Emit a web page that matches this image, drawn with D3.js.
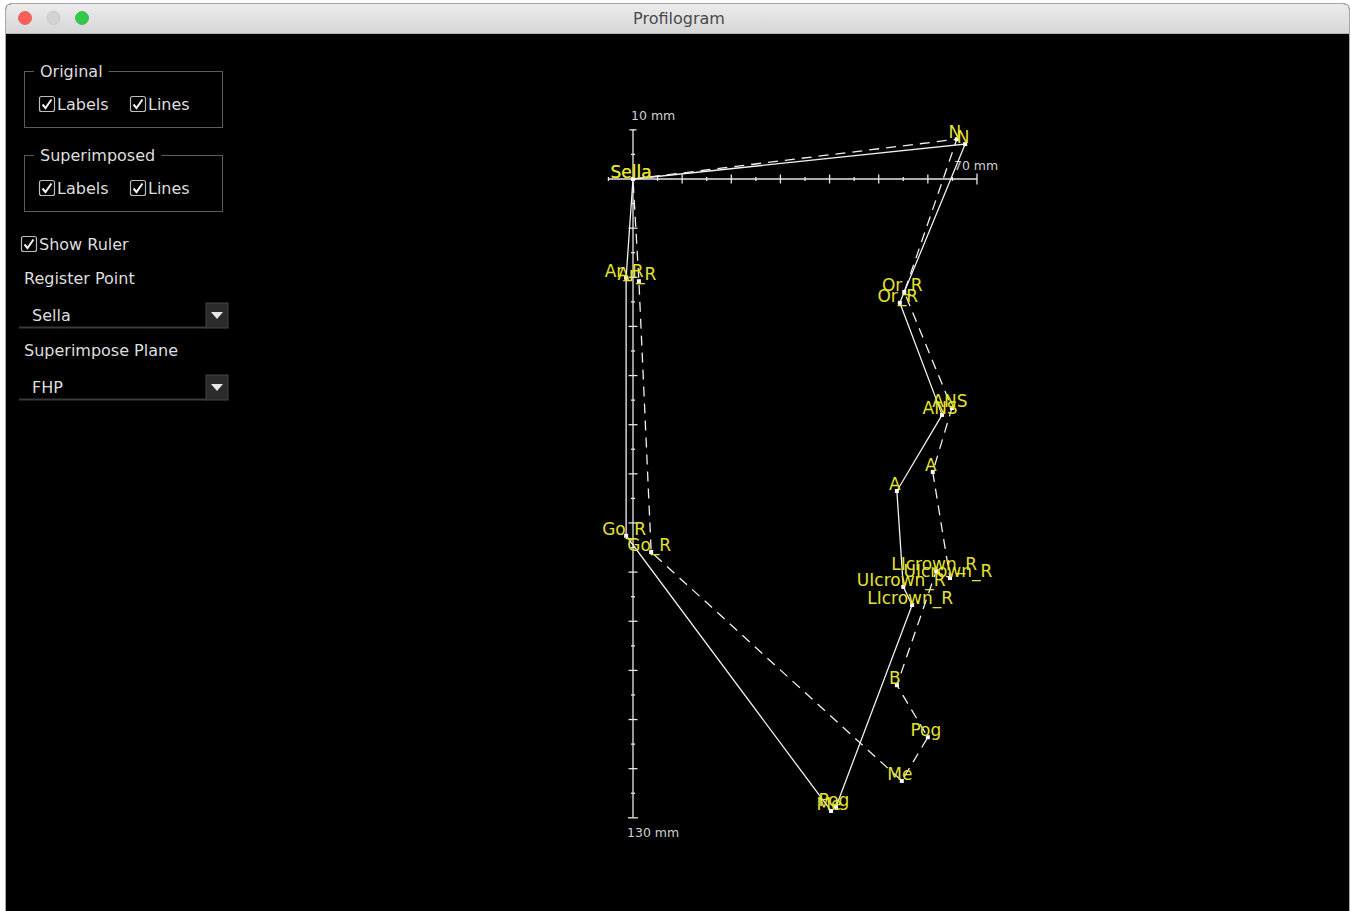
<!DOCTYPE html>
<html>
<head>
<meta charset="utf-8">
<title>Profilogram</title>
<script src="https://cdn.jsdelivr.net/npm/d3@7"></script>
<style>
  html, body { margin: 0; padding: 0; background: #fff; }
  svg { display: block; font-family: "DejaVu Sans", sans-serif; }
</style>
</head>
<body>
<div class="canvas"></div>
<script>
// landmark data in mm, relative to the register point (Sella)
const originalNames = ["Sella", "N", "Or_R", "ANS", "A", "UIcrown_R", "LIcrown_R", "Pog", "Me", "Go_R", "Ar_R"];
const originalX = [0, 67.6, 54.3, 62.9, 53.7, 55.0, 56.8, 41.3, 40.3, -1.4, -1.4];
const originalY = [0, -7.1, 25.2, 48.0, 63.5, 83.0, 86.7, 127.8, 128.6, 72.6, 20.1];

const superNames = ["Sella", "N", "Or_R", "ANS", "A", "UIcrown_R", "LIcrown_R", "B", "Pog", "Me", "Go_R", "Ar_R"];
const superX = [0, 65.9, 55.2, 64.9, 61.0, 64.5, 61.7, 53.7, 60.0, 54.7, 3.7, 1.2];
const superY = [0, -8.1, 23.0, 46.6, 59.6, 81.2, 79.8, 103.0, 113.6, 122.5, 75.9, 20.8];

// ruler extents and tick labels
const rulerX = [-5, 70];
const rulerY = [-10, 130];
const rulerLabels = ["10 mm", "70 mm", "130 mm"];

// panel texts
const groupTitles = ["Original", "Superimposed"];
const checkTexts = ["Labels", "Lines"];
const comboTitles = ["Register Point", "Superimpose Plane"];
const comboValues = ["Sella", "FHP"];

const w = 1351;
const h = 911;
const pxPerMm = 4.914;
const origin = { x: 633, y: 179 };

const svg = d3.select(".canvas").append("svg").attr("width", w).attr("height", h);

// window frame
const defs = svg.append("defs");
const grad = defs.append("linearGradient").attr("id", "titlebar").attr("x1", 0).attr("y1", 0).attr("x2", 0).attr("y2", 1);
grad.append("stop").attr("offset", "0%").attr("stop-color", "#ececec");
grad.append("stop").attr("offset", "100%").attr("stop-color", "#d6d6d6");

svg.append("rect").attr("x", 5.5).attr("y", 3.5).attr("width", 1344).attr("height", 930)
  .attr("rx", 6).attr("fill", "#000").attr("stroke", "#a8a8a8");
svg.append("path")
  .attr("d", "M6,33 L6,10 Q6,4 12,4 L1343,4 Q1349,4 1349,10 L1349,33 Z")
  .attr("fill", "url(#titlebar)");
svg.append("line").attr("x1", 6).attr("x2", 1349).attr("y1", 33.5).attr("y2", 33.5).attr("stroke", "#b4b4b4");
[["#fc5f57", "#de4a42"], ["#d3d3d3", "#c0c0c0"], ["#34c84a", "#27aa35"]].forEach((c, i) => {
  svg.append("circle").attr("cx", 25 + i * 28.5).attr("cy", 18).attr("r", 6.5)
    .attr("fill", c[0]).attr("stroke", c[1]).attr("stroke-width", 0.7);
});
svg.append("text").attr("x", 679).attr("y", 24).attr("text-anchor", "middle")
  .attr("font-size", 16).attr("fill", "#4a4a4a").text("Profilogram");

// left control panel
const panel = svg.append("g").attr("fill", "#dedede").attr("font-size", 16);

function checkbox(x, y, label) {
  panel.append("rect").attr("x", x + 0.5).attr("y", y + 0.5).attr("width", 15).attr("height", 15)
    .attr("rx", 2).attr("fill", "#000").attr("stroke", "#bdbdbd").attr("stroke-width", 1.2);
  panel.append("path").attr("d", `M${x + 3.5},${y + 8.5} L${x + 6.5},${y + 12} L${x + 12.5},${y + 3.5}`)
    .attr("fill", "none").attr("stroke", "#f2f2f2").attr("stroke-width", 2);
  panel.append("text").attr("x", x + 18).attr("y", y + 13.5).text(label);
}

groupTitles.forEach((t, i) => {
  const top = 71 + i * 84;
  panel.append("rect").attr("x", 24.5).attr("y", top + 0.5).attr("width", 198).attr("height", 56)
    .attr("fill", "none").attr("stroke", "#5c5c5c");
  // gap in the border behind the group title
  const title = panel.append("text").attr("x", 40).attr("y", top + 5.5).text(t);
  const tw = title.node().getComputedTextLength();
  panel.insert("rect", "text:last-child").attr("x", 34).attr("y", top - 6)
    .attr("width", tw + 12).attr("height", 12).attr("fill", "#000");
  title.raise();
  checkbox(39, top + 25, checkTexts[0]);
  checkbox(130, top + 25, checkTexts[1]);
});

checkbox(21, 236, "Show Ruler");

comboTitles.forEach((t, i) => {
  const top = 278 + i * 72;
  panel.append("text").attr("x", 24).attr("y", top + 6).text(t);
  panel.append("text").attr("x", 32).attr("y", top + 43).text(comboValues[i]);
  panel.append("line").attr("x1", 19).attr("x2", 207).attr("y1", top + 49.5).attr("y2", top + 49.5)
    .attr("stroke", "#3a3a3a").attr("stroke-width", 2);
  panel.append("rect").attr("x", 206).attr("y", top + 25).attr("width", 22).attr("height", 25)
    .attr("fill", "#2b2b2b").attr("stroke", "#444");
  panel.append("path").attr("d", `M211,${top + 34} L223,${top + 34} L217,${top + 41} Z`)
    .attr("fill", "#e8e8e8");
});

// scales: mm -> px
const x = d3.scaleLinear().domain([0, 70]).range([origin.x, origin.x + 70 * pxPerMm]);
const y = d3.scaleLinear().domain([0, 130]).range([origin.y, origin.y + 130 * pxPerMm]);

// ruler
const ruler = svg.append("g").attr("stroke", "#e6e6e6").attr("stroke-width", 1.3);
ruler.append("line").attr("x1", x(rulerX[0])).attr("x2", x(rulerX[1])).attr("y1", y(0)).attr("y2", y(0));
ruler.append("line").attr("x1", x(0)).attr("x2", x(0)).attr("y1", y(rulerY[0])).attr("y2", y(rulerY[1]));

d3.range(rulerX[0], rulerX[1] + 1, 5).forEach((v) => {
  if (v === 0) return;
  const len = v === rulerX[1] ? 5.5 : v % 10 === 0 ? 4.5 : 2;
  ruler.append("line").attr("x1", x(v)).attr("x2", x(v)).attr("y1", y(0) - len).attr("y2", y(0) + len);
});
d3.range(rulerY[0], rulerY[1] + 1, 5).forEach((v) => {
  if (v === 0) return;
  const len = v === rulerY[1] ? 5 : v === rulerY[0] ? 3.5 : v % 10 === 0 ? 4.5 : 2;
  ruler.append("line").attr("x1", x(0) - len).attr("x2", x(0) + len).attr("y1", y(v)).attr("y2", y(v));
});

const rulerText = svg.append("g").attr("fill", "#d0d0d0").attr("font-size", 12.5);
rulerText.append("text").attr("x", x(0) - 2).attr("y", y(rulerY[0]) - 10).text(rulerLabels[0]);
rulerText.append("text").attr("x", x(rulerX[1]) - 23).attr("y", y(0) - 9).text(rulerLabels[1]);
rulerText.append("text").attr("x", x(0) - 6).attr("y", y(rulerY[1]) + 19).text(rulerLabels[2]);

// profile lines: original solid, superimposed dashed
const lineGen = d3.line().x((d) => x(d[0])).y((d) => y(d[1]));
const originalPts = originalX.map((v, i) => [v, originalY[i]]);
const superPts = superX.map((v, i) => [v, superY[i]]);

svg.append("path").attr("d", lineGen(originalPts.concat([originalPts[0]])))
  .attr("fill", "none").attr("stroke", "#f0f0f0").attr("stroke-width", 1.3);
svg.append("path").attr("d", lineGen(superPts.concat([superPts[0]])))
  .attr("fill", "none").attr("stroke", "#f0f0f0").attr("stroke-width", 1.3)
  .attr("stroke-dasharray", "10,7");

// landmark dots
[originalPts, superPts].forEach((pts) => {
  svg.append("g").selectAll("rect").data(pts).enter().append("rect")
    .attr("x", (d) => x(d[0]) - 2).attr("y", (d) => y(d[1]) - 2)
    .attr("width", 4).attr("height", 4).attr("fill", "#fff");
});

// landmark labels
[[originalPts, originalNames], [superPts, superNames]].forEach(([pts, names]) => {
  svg.append("g").attr("fill", "#e2e232").attr("font-size", 17).attr("text-anchor", "middle")
    .selectAll("text").data(pts).enter().append("text")
    .attr("x", (d) => x(d[0]) - 2).attr("y", (d) => y(d[1]) - 1)
    .text((d, i) => names[i]);
});
</script>
</body>
</html>
